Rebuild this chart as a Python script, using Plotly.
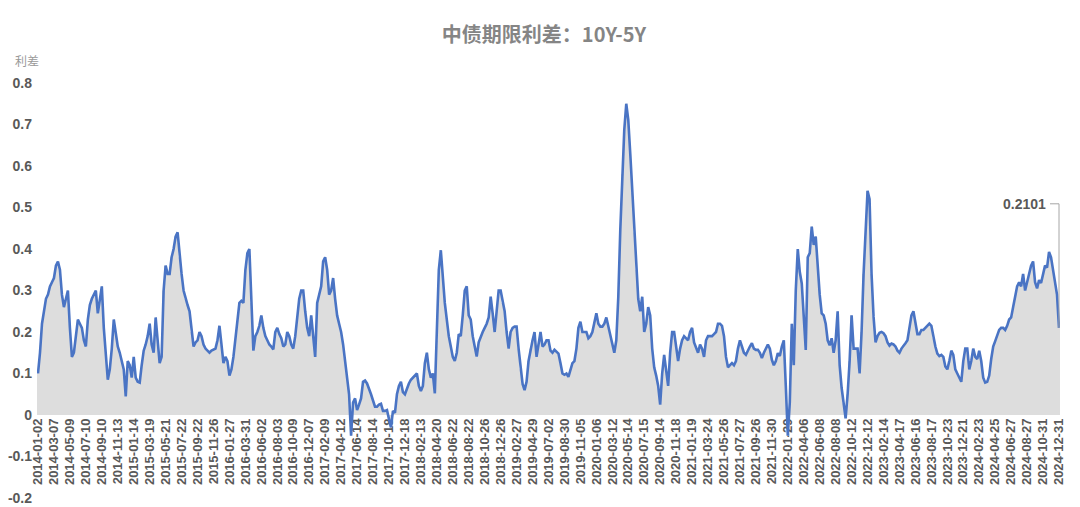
import pandas as pd
import plotly.graph_objects as go

# x-axis labels (category axis, one label every ~2 months)
tick_dates = [
    "2014-01-02", "2014-03-07", "2014-05-09", "2014-07-10", "2014-09-10", "2014-11-13",
    "2015-01-14", "2015-03-19", "2015-05-21", "2015-07-22", "2015-09-22", "2015-11-26",
    "2016-01-27", "2016-03-31", "2016-06-02", "2016-08-03", "2016-10-09", "2016-12-07",
    "2017-02-09", "2017-04-12", "2017-06-14", "2017-08-14", "2017-10-18", "2017-12-18",
    "2018-02-13", "2018-04-20", "2018-06-22", "2018-08-22", "2018-10-26", "2018-12-26",
    "2019-02-27", "2019-04-29", "2019-07-02", "2019-08-30", "2019-11-05",
    "2020-01-06", "2020-03-12", "2020-05-14", "2020-07-15", "2020-09-14", "2020-11-18",
    "2021-01-19", "2021-03-24", "2021-05-26", "2021-07-27", "2021-09-26", "2021-11-30",
    "2022-01-29", "2022-04-06", "2022-06-08", "2022-08-08", "2022-10-12", "2022-12-12",
    "2023-02-14", "2023-04-17", "2023-06-16", "2023-08-17", "2023-10-23", "2023-12-21",
    "2024-02-23", "2024-04-25", "2024-06-27", "2024-08-27", "2024-10-31", "2024-12-31",
]

# spread readings (10Y - 5Y, %), eight readings per labelled interval (one row each)
spread_2014_2015 = [
    0.10, 0.15, 0.22, 0.25, 0.28, 0.29, 0.31, 0.32,
    0.33, 0.36, 0.37, 0.35, 0.29, 0.26, 0.28, 0.30,
    0.21, 0.14, 0.15, 0.19, 0.23, 0.22, 0.21, 0.18,
    0.165, 0.23, 0.265, 0.28, 0.29, 0.30, 0.245, 0.28,
    0.31, 0.21, 0.14, 0.085, 0.11, 0.16, 0.23, 0.19,
    0.165, 0.15, 0.13, 0.11, 0.045, 0.13, 0.12, 0.09,
    0.14, 0.09, 0.08, 0.078, 0.12, 0.155, 0.17, 0.19,
    0.22, 0.17, 0.15, 0.235, 0.18, 0.125, 0.14, 0.30,
]
spread_2015_2016 = [
    0.36, 0.34, 0.34, 0.38, 0.40, 0.43, 0.44, 0.38,
    0.34, 0.30, 0.28, 0.265, 0.25, 0.20, 0.165, 0.175,
    0.18, 0.20, 0.19, 0.17, 0.16, 0.155, 0.15, 0.155,
    0.157, 0.16, 0.18, 0.215, 0.17, 0.125, 0.14, 0.13,
    0.095, 0.11, 0.14, 0.18, 0.22, 0.27, 0.275, 0.27,
    0.35, 0.39, 0.40, 0.27, 0.155, 0.19, 0.20, 0.215,
    0.24, 0.21, 0.19, 0.18, 0.17, 0.165, 0.158, 0.20,
    0.21, 0.195, 0.185, 0.165, 0.17, 0.20, 0.19, 0.17,
]
spread_2016_2018 = [
    0.16, 0.19, 0.235, 0.28, 0.30, 0.30, 0.25, 0.21,
    0.19, 0.24, 0.19, 0.14, 0.27, 0.29, 0.31, 0.37,
    0.38, 0.35, 0.29, 0.30, 0.33, 0.28, 0.24, 0.22,
    0.20, 0.17, 0.13, 0.09, 0.05, -0.05, 0.03, 0.04,
    0.012, 0.025, 0.04, 0.08, 0.083, 0.076, 0.06, 0.05,
    0.035, 0.02, 0.02, 0.025, 0.027, 0.01, 0.01, 0.012,
    -0.01, -0.03, 0.01, 0.005, 0.05, 0.07, 0.08, 0.055,
    0.05, 0.066, 0.076, 0.085, 0.09, 0.095, 0.10, 0.07,
]
spread_2018_2019 = [
    0.058, 0.07, 0.125, 0.15, 0.11, 0.09, 0.10, 0.052,
    0.18, 0.35, 0.397, 0.32, 0.27, 0.23, 0.19, 0.165,
    0.14, 0.13, 0.15, 0.195, 0.19, 0.24, 0.30, 0.31,
    0.24, 0.23, 0.19, 0.165, 0.141, 0.175, 0.19, 0.20,
    0.21, 0.22, 0.235, 0.285, 0.245, 0.20, 0.25, 0.30,
    0.30, 0.27, 0.25, 0.20, 0.16, 0.20, 0.21, 0.213,
    0.213, 0.16, 0.11, 0.075, 0.06, 0.08, 0.13, 0.16,
    0.18, 0.20, 0.14, 0.17, 0.20, 0.165, 0.17, 0.18,
]
spread_2019_2020 = [
    0.18, 0.155, 0.15, 0.157, 0.153, 0.148, 0.125, 0.10,
    0.097, 0.10, 0.092, 0.11, 0.125, 0.13, 0.16, 0.21,
    0.225, 0.20, 0.20, 0.20, 0.185, 0.19, 0.20, 0.225,
    0.245, 0.22, 0.213, 0.213, 0.22, 0.235, 0.215, 0.195,
    0.17, 0.15, 0.18, 0.285, 0.446, 0.58, 0.687, 0.75,
    0.711, 0.63, 0.535, 0.44, 0.35, 0.28, 0.25, 0.285,
    0.20, 0.22, 0.26, 0.24, 0.16, 0.115, 0.095, 0.07,
    0.025, 0.10, 0.145, 0.105, 0.07, 0.15, 0.20, 0.20,
]
spread_2020_2022 = [
    0.165, 0.13, 0.16, 0.18, 0.19, 0.185, 0.18, 0.20,
    0.21, 0.175, 0.16, 0.15, 0.17, 0.16, 0.14, 0.18,
    0.19, 0.19, 0.19, 0.195, 0.20, 0.22, 0.22, 0.215,
    0.19, 0.14, 0.115, 0.12, 0.125, 0.12, 0.13, 0.16,
    0.18, 0.165, 0.15, 0.145, 0.157, 0.165, 0.173, 0.16,
    0.157, 0.157, 0.15, 0.137, 0.15, 0.16, 0.17, 0.16,
    0.133, 0.12, 0.13, 0.149, 0.142, 0.165, 0.18, 0.07,
    -0.05, 0.03, 0.22, 0.12, 0.30, 0.40, 0.345, 0.317,
]
spread_2022_2023 = [
    0.24, 0.157, 0.38, 0.39, 0.454, 0.41, 0.43, 0.35,
    0.29, 0.245, 0.24, 0.22, 0.18, 0.168, 0.185, 0.15,
    0.18, 0.25, 0.12, 0.065, 0.028, -0.008, 0.05, 0.13,
    0.24, 0.16, 0.16, 0.16, 0.10, 0.20, 0.34, 0.43,
    0.54, 0.52, 0.34, 0.237, 0.175, 0.19, 0.198, 0.20,
    0.197, 0.19, 0.175, 0.167, 0.172, 0.17, 0.165, 0.155,
    0.15, 0.16, 0.168, 0.173, 0.18, 0.21, 0.24, 0.25,
    0.221, 0.195, 0.195, 0.205, 0.205, 0.21, 0.213, 0.22,
]
spread_2023_2024 = [
    0.215, 0.185, 0.165, 0.148, 0.142, 0.145, 0.14, 0.117,
    0.11, 0.13, 0.155, 0.145, 0.11, 0.10, 0.09, 0.08,
    0.13, 0.16, 0.16, 0.11, 0.13, 0.16, 0.14, 0.135,
    0.155, 0.13, 0.09, 0.078, 0.08, 0.095, 0.135, 0.165,
    0.178, 0.19, 0.205, 0.21, 0.21, 0.205, 0.215, 0.23,
    0.235, 0.26, 0.285, 0.31, 0.32, 0.31, 0.34, 0.30,
    0.32, 0.34, 0.36, 0.37, 0.32, 0.305, 0.325, 0.318,
    0.34, 0.36, 0.355, 0.393, 0.38, 0.35, 0.32, 0.29,
]
last_value = 0.2101

values = (spread_2014_2015 + spread_2015_2016 + spread_2016_2018 + spread_2018_2019
          + spread_2019_2020 + spread_2020_2022 + spread_2022_2023 + spread_2023_2024
          + [last_value])

dates = []
for a, b in zip(tick_dates[:-1], tick_dates[1:]):
    dates += [d.strftime("%Y-%m-%d") for d in pd.date_range(a, b, periods=9)[:-1]]
dates.append(tick_dates[-1])

y_ticks = [-0.2, -0.1, 0, 0.1, 0.2, 0.3, 0.4, 0.5, 0.6, 0.7, 0.8]
y_text = ["-0.2", "-0.1", "0", "0.1", "0.2", "0.3", "0.4", "0.5", "0.6", "0.7", "0.8"]

fig = go.Figure()
fig.add_trace(go.Bar(
    x=dates, y=values, marker=dict(color="#dddddd", line=dict(width=0)),
    hoverinfo="skip", showlegend=False,
))
fig.add_trace(go.Scatter(
    x=dates, y=values, mode="lines",
    line=dict(color="#4a74c4", width=2.6), showlegend=False, name="10Y-5Y",
))

# leader line from the last point up to its label
fig.add_shape(
    type="path", xref="x", yref="y",
    xsizemode="pixel", ysizemode="pixel",
    xanchor=dates[-1], yanchor=last_value,
    path="M0,0 L0,124 L-9,124",
    line=dict(color="#a6a6a6", width=1),
)
fig.add_annotation(
    x=dates[-1], y=last_value, text="0.2101", showarrow=False,
    xshift=-11, yshift=124, xanchor="right", yanchor="middle",
    font=dict(family="Liberation Sans", size=14, color="#595959", weight="bold"),
)
fig.add_annotation(
    xref="paper", yref="paper", x=-0.0235, y=1.055, text="利差", showarrow=False,
    xanchor="left", yanchor="middle",
    font=dict(family="Noto Sans CJK SC", size=12, color="#999999"),
)

# the page adds an 8px body margin, so the figure is 8px smaller than the window
fig.update_layout(
    width=1072, height=499,
    margin=dict(l=29, r=20, t=75, b=9),
    paper_bgcolor="white", plot_bgcolor="white",
    bargap=0.35,
    title=dict(
        text="中债期限利差：10Y-5Y", x=0.5, xanchor="center", y=0.946, yanchor="middle",
        font=dict(family="Noto Sans CJK SC", size=20, color="#858585", weight="bold"),
    ),
    xaxis=dict(
        type="category", tickmode="array", tickvals=tick_dates, ticktext=tick_dates,
        tickangle=-90, showgrid=False, showline=False, zeroline=False, ticks="",
        anchor="free", position=0.2, layer="below traces", automargin=False,
        tickfont=dict(family="Liberation Sans", size=13, color="#595959", weight="bold"),
    ),
    yaxis=dict(
        range=[-0.2, 0.8], tickmode="array", tickvals=y_ticks, ticktext=y_text,
        showgrid=False, zeroline=False, showline=False, ticks="", automargin=False,
        ticklabelstandoff=4,
        tickfont=dict(family="Liberation Sans", size=14, color="#595959", weight="bold"),
    ),
)

fig.write_html("out.html")
